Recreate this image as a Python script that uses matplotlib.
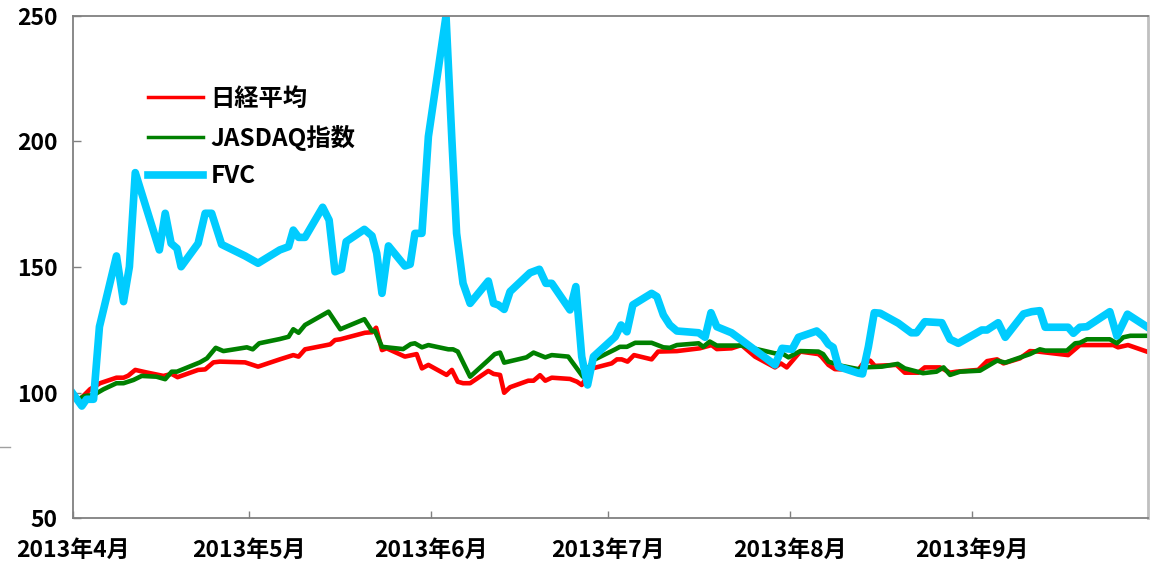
import matplotlib
matplotlib.use('Agg')
from matplotlib import pyplot as plt
from matplotlib.lines import Line2D

plt.rcParams['font.family'] = ['Noto Sans CJK JP', 'DejaVu Sans']
plt.rcParams['font.weight'] = 'bold'

# x = days since 2013-04-01
month_days = [0, 30, 61, 91, 122, 153]
month_labels = ['2013年4月', '2013年5月', '2013年6月', '2013年7月', '2013年8月', '2013年9月']

fvc_days = [0, 1.5, 2.3, 3.5, 4.5, 7.4, 8.6, 9.6, 10.6, 14.7, 15.7, 16.7, 17.7, 18.4,
            21.3, 22.5, 23.6, 25.3, 29.3, 31.5, 35.2, 36.7, 37.5, 38.4, 39.5, 42.5,
            43.6, 44.6, 45.7, 46.5, 49.6, 50.9, 51.7, 52.6, 53.7, 56.5, 57.4, 58.2,
            59.4, 60.5, 63.5, 64.5, 65.3, 66.4, 67.6, 70.7, 71.6, 72.4, 73.4, 74.4,
            77.8, 79.4, 80.5, 81.5, 84.6, 85.6, 86.6, 87.6, 88.6, 92.3, 93.3, 94.3,
            95.3, 98.5, 99.4, 100.5, 101.6, 102.8, 106.5, 107.6, 108.6, 109.6, 112.1,
            113.8, 119.5, 120.7, 122.4, 123.5, 126.6, 127.7, 128.6, 129.4, 130.3,
            133.7, 134.4, 135.4, 136.4, 137.4, 140.5, 142.7, 143.6, 145.0, 147.9,
            149.3, 150.7, 154.7, 155.6, 157.5, 158.7, 161.8, 163.2, 164.6, 165.5,
            169.4, 170.3, 171.4, 172.6, 176.5, 177.7, 179.5, 182.8]
fvc = [99.5, 94.6, 97.3, 97.3, 126.2, 154.4, 136.2, 150.1, 187.6, 156.8, 171.4, 159.4,
       157.4, 150.1, 159.4, 171.4, 171.4, 159.0, 154.4, 151.5, 156.8, 158.1, 164.7,
       161.8, 161.8, 173.8, 168.7, 148.1, 149.1, 160.1, 165.0, 162.4, 155.5, 139.5,
       158.4, 150.4, 151.1, 163.4, 163.4, 202.0, 250.0, 200.6, 163.4, 143.5, 135.5,
       144.4, 135.5, 134.9, 133.1, 140.2, 147.7, 149.1, 143.5, 143.5, 132.9, 142.2,
       114.3, 103.0, 114.3, 122.2, 126.9, 124.2, 134.9, 139.5, 138.2, 130.9, 126.9,
       124.5, 123.8, 122.0, 131.8, 126.2, 123.8, 120.9, 111.0, 117.6, 117.2, 122.0,
       124.5, 122.2, 119.2, 118.0, 110.3, 107.7, 107.4, 118.2, 131.8, 131.6, 127.6,
       123.8, 123.8, 128.2, 127.8, 121.2, 119.6, 124.9, 124.9, 127.8, 122.0,
       131.3, 132.2, 132.6, 126.0, 126.0, 123.6, 126.0, 126.2, 132.2, 122.5, 131.2,
       126.2]

nikkei_days = [0, 1.2, 2.9, 4.6, 7.4, 8.6, 9.4, 10.6, 12.5, 15.4, 16.8, 17.8, 21.3,
               22.5, 23.9, 25.0, 29.3, 31.5, 35.2, 37.5, 38.4, 39.5, 43.2, 43.8, 44.6,
               45.5, 49.7, 50.9, 51.6, 52.6, 53.4, 56.5, 58.5, 59.4, 60.5, 63.6, 64.5,
               65.5, 66.4, 67.6, 70.7, 71.6, 72.7, 73.4, 74.4, 77.5, 78.4, 79.5, 80.4,
               81.5, 84.6, 85.8, 86.6, 88.4, 91.7, 92.6, 93.4, 94.4, 95.5, 98.5, 99.6,
               102.8, 106.7, 108.7, 109.6, 112.1, 113.8, 116.1, 119.5, 120.5, 121.5,
               123.8, 126.9, 127.4, 128.6, 129.7, 133.7, 134.5, 135.7, 136.5, 140.2,
               141.6, 143.9, 145.0, 147.6, 149.3, 150.4, 154.1, 155.6, 157.3, 158.4,
               161.2, 162.9, 164.3, 169.4, 171.4, 177.1, 177.9, 179.6, 182.8]
nikkei = [98.5, 97.3, 101.3, 103.7, 105.9, 105.9, 106.7, 109.0, 108.0, 106.6, 107.4,
          106.1, 109.0, 109.2, 112.0, 112.3, 112.0, 110.3, 113.2, 114.9, 114.3, 117.2,
          118.9, 119.2, 120.9, 121.2, 123.8, 124.0, 125.8, 116.9, 117.6, 114.3, 115.3,
          109.6, 111.0, 107.0, 109.0, 104.3, 103.7, 103.7, 108.6, 107.4, 107.0, 99.9,
          102.1, 104.7, 104.7, 106.9, 104.7, 105.9, 105.4, 104.3, 103.0, 109.6, 111.6,
          113.2, 113.2, 112.3, 114.9, 113.2, 116.3, 116.5, 117.6, 118.9, 117.3, 117.6,
          118.9, 114.3, 110.0, 111.6, 110.0, 116.3, 115.3, 114.3, 111.0, 109.3, 109.0,
          111.6, 112.7, 110.6, 111.0, 107.9, 107.9, 110.0, 110.0, 107.9, 108.3, 109.0,
          112.5, 113.2, 111.6, 113.6, 116.5, 116.3, 114.9, 118.9, 118.9, 118.0, 118.9,
          116.3]

jasdaq_days = [0, 0.9, 2.0, 3.5, 5.2, 7.4, 8.6, 10.3, 11.7, 14.2, 15.7, 16.8, 17.7,
               21.6, 22.8, 24.3, 25.6, 29.6, 30.6, 31.7, 35.2, 36.7, 37.5, 38.4, 39.5,
               43.5, 45.5, 49.6, 50.9, 51.4, 52.6, 56.2, 57.5, 58.2, 59.4, 60.5, 63.9,
               64.7, 65.5, 67.6, 70.7, 71.8, 72.7, 73.4, 77.2, 78.4, 80.4, 81.5, 84.3,
               86.8, 88.6, 92.3, 93.1, 94.3, 95.7, 98.5, 100.5, 101.6, 102.8, 106.5,
               107.3, 108.4, 109.6, 113.8, 119.5, 120.7, 121.8, 123.8, 126.9, 127.7,
               128.6, 130.9, 133.7, 134.5, 137.7, 140.4, 141.6, 144.7, 147.0, 148.2,
               149.3, 151.0, 154.4, 157.3, 158.7, 162.9, 164.6, 165.5, 169.2, 170.6,
               171.4, 172.6, 176.5, 177.7, 178.8, 180.0, 182.8]
jasdaq = [98.5, 97.3, 98.6, 99.0, 101.3, 103.7, 103.7, 105.0, 106.6, 106.3, 105.3,
          108.3, 108.3, 112.0, 113.6, 117.8, 116.5, 118.0, 117.2, 119.6, 121.3, 122.2,
          125.2, 123.8, 126.9, 132.2, 125.2, 129.2, 124.5, 124.5, 118.2, 117.3, 119.3,
          119.6, 118.0, 118.9, 117.2, 117.2, 116.3, 106.3, 112.9, 115.3, 115.9, 111.9,
          114.0, 115.9, 114.0, 114.9, 114.3, 106.3, 112.9, 117.2, 118.2, 118.2, 119.8,
          119.8, 118.0, 117.8, 118.9, 119.6, 118.2, 120.3, 118.7, 118.7, 115.6, 115.6,
          114.0, 116.5, 116.3, 115.3, 112.3, 110.6, 109.3, 110.0, 110.3, 111.4, 109.6,
          107.7, 108.3, 110.0, 107.0, 108.3, 108.7, 112.7, 111.9, 115.3, 117.2, 116.7,
          116.7, 119.6, 119.8, 121.2, 121.2, 119.6, 122.0, 122.6, 122.6]

fig = plt.figure(figsize=(11.56, 5.65), dpi=100)
ax = fig.add_axes([73 / 1156, 47 / 565, 1075 / 1156, 502 / 565])

ax.plot(nikkei_days, nikkei, color='#ff0000', lw=3.3, label='日経平均', solid_joinstyle='round')
ax.plot(jasdaq_days, jasdaq, color='#008000', lw=3.3, label='JASDAQ指数', solid_joinstyle='round')
ax.plot(fvc_days, fvc, color='#00ccff', lw=5.5, label='FVC', solid_joinstyle='round')

ax.set_xlim(0, 183)
ax.set_ylim(50, 250)
ax.set_yticks([50, 100, 150, 200, 250])
ax.set_xticks(month_days)
ax.set_xticklabels(month_labels)

ax.tick_params(axis='y', direction='in', length=6, width=1, color='#808080',
               labelsize=16.5, pad=11)
ax.tick_params(axis='x', direction='in', length=5, width=1, color='#808080',
               labelsize=16.5, pad=15)
for s in ['left', 'bottom', 'top']:
    ax.spines[s].set_color('#808080')
    ax.spines[s].set_linewidth(1.3)
ax.spines['right'].set_color('#c0c0c0')
ax.spines['right'].set_linewidth(2)

leg = ax.legend(loc='upper left', bbox_to_anchor=(0.058, 0.883), frameon=False,
                fontsize=17.5, handlelength=2.3, handletextpad=0.3, labelspacing=0.56,
                borderpad=0)
for h in leg.get_lines():
    if h.get_color() == '#00ccff':
        h.set_linewidth(5.5)
    else:
        h.set_linewidth(2.5)

# small stray mark at the left edge
fig.add_artist(Line2D([0 / 1156, 10 / 1156], [118 / 565, 118 / 565], color='#a0a0a0', lw=1))

fig.savefig('out.png', dpi=100)
